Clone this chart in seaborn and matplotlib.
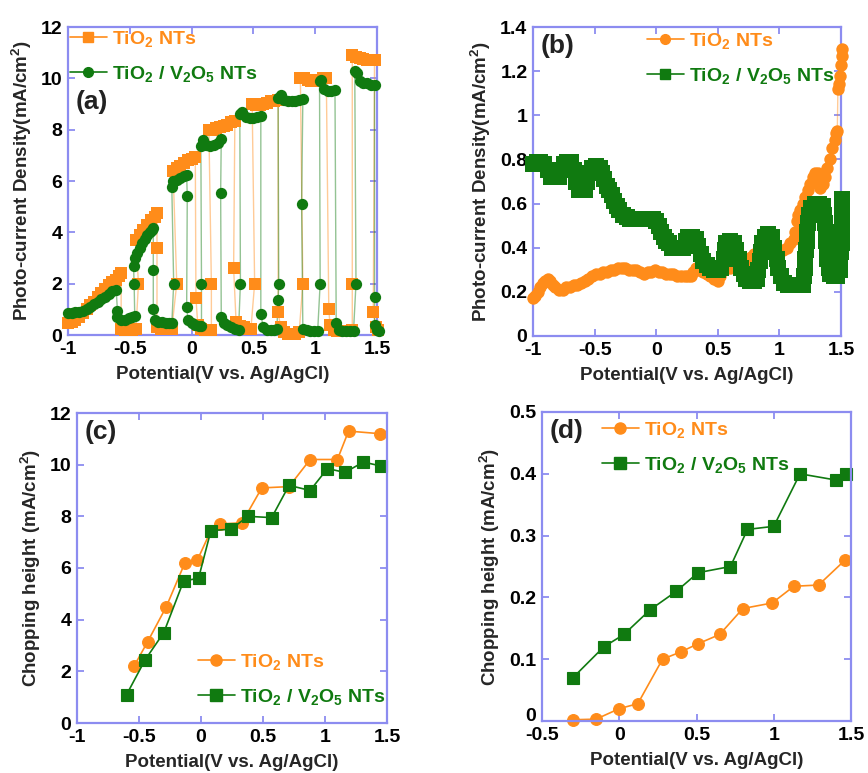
import matplotlib
matplotlib.use("Agg")
import matplotlib.pyplot as plt
import matplotlib.font_manager as fm
from matplotlib.lines import Line2D
from matplotlib.ticker import FuncFormatter, MultipleLocator, FixedLocator
from matplotlib.transforms import ScaledTranslation
import seaborn as sns
import pandas as pd

# ---------------- data ----------------
# (a) chopped photocurrent, TiO2 NTs (orange squares)
a_tio2_x = [-1.0, -0.97, -0.94, -0.91, -0.88, -0.85, -0.82, -0.79, -0.76, -0.73, -0.70, -0.67, -0.64, -0.61, -0.59, -0.57,
            -0.57, -0.54, -0.51, -0.48, -0.45,
            -0.43, -0.45, -0.42, -0.39, -0.36, -0.33, -0.30, -0.28,
            -0.28, -0.28, -0.25, -0.22, -0.19, -0.16,
            -0.12, -0.15, -0.12, -0.09, -0.06, -0.03, 0.0, 0.03,
            0.035, 0.05, 0.08, 0.11, 0.14, 0.16,
            0.16, 0.14, 0.17, 0.20, 0.23, 0.26, 0.29, 0.32, 0.35,
            0.34, 0.36, 0.39, 0.42, 0.45, 0.48,
            0.51, 0.49, 0.52, 0.55, 0.58, 0.61, 0.64, 0.67, 0.70,
            0.70, 0.72, 0.75, 0.78, 0.81, 0.84, 0.87,
            0.90, 0.88, 0.91, 0.94, 0.97, 1.00, 1.03, 1.06, 1.09,
            1.11, 1.12, 1.15, 1.18, 1.21, 1.24, 1.27, 1.30,
            1.30, 1.30, 1.33, 1.36, 1.39, 1.42, 1.45, 1.48,
            1.47, 1.49, 1.51]
a_tio2_y = [0.45, 0.5, 0.6, 0.7, 0.85, 1.0, 1.15, 1.3, 1.5, 1.65, 1.8, 1.95, 2.05, 2.15, 2.3, 2.4,
            0.25, 0.2, 0.2, 0.2, 0.22,
            2.0, 3.7, 3.9, 4.1, 4.3, 4.5, 4.6, 4.75,
            3.4, 0.3, 0.25, 0.25, 0.25, 0.25,
            2.0, 6.4, 6.5, 6.6, 6.7, 6.8, 6.85, 6.95,
            1.45, 0.4, 0.25, 0.2, 0.2, 0.2,
            2.0, 8.0, 8.0, 8.05, 8.1, 8.15, 8.2, 8.3, 8.35,
            2.6, 0.5, 0.35, 0.3, 0.25, 0.25,
            2.0, 9.0, 8.95, 8.95, 9.0, 9.05, 9.1, 9.1, 9.15,
            0.9, 0.3, 0.1, 0.05, 0.05, 0.05, 0.1,
            2.0, 10.0, 10.0, 9.95, 9.9, 9.9, 9.95, 10.0, 10.0,
            1.0, 0.4, 0.2, 0.15, 0.15, 0.15, 0.15, 0.2,
            2.0, 10.9, 10.85, 10.8, 10.75, 10.7, 10.7, 10.7,
            0.9, 0.3, 0.2]

# (a) chopped photocurrent, TiO2/V2O5 NTs (green circles)
a_tv_x = [-1.0, -0.97, -0.94, -0.91, -0.88, -0.85, -0.82, -0.79, -0.76, -0.73, -0.70, -0.67, -0.64, -0.61,
          -0.60, -0.60, -0.57, -0.54, -0.51, -0.48, -0.46,
          -0.465, -0.47, -0.46, -0.44, -0.42, -0.40, -0.38, -0.36, -0.34, -0.32, -0.31,
          -0.31, -0.31, -0.30, -0.27, -0.24, -0.21, -0.18, -0.16,
          -0.145, -0.16, -0.15, -0.12, -0.09, -0.06, -0.04,
          -0.035, -0.04, -0.03, 0.0, 0.03, 0.06, 0.08,
          0.08, 0.075, 0.09, 0.12, 0.15, 0.18, 0.21, 0.24,
          0.235, 0.24, 0.26, 0.29, 0.32, 0.35, 0.38,
          0.395, 0.39, 0.41, 0.44, 0.47, 0.50, 0.53, 0.56,
          0.56, 0.58, 0.61, 0.64, 0.67, 0.69,
          0.70, 0.705, 0.70, 0.72, 0.75, 0.78, 0.81, 0.84, 0.87, 0.90,
          0.89, 0.90, 0.93, 0.96, 0.99, 1.02,
          1.04, 1.035, 1.05, 1.07, 1.10, 1.13, 1.16,
          1.17, 1.19, 1.22, 1.25, 1.28, 1.31,
          1.33, 1.32, 1.34, 1.36, 1.39, 1.42, 1.45, 1.48,
          1.48, 1.48, 1.50, 1.52]
a_tv_y = [0.85, 0.85, 0.88, 0.9, 0.95, 1.0, 1.1, 1.2, 1.3, 1.4, 1.5, 1.6, 1.7, 1.75,
          0.95, 0.7, 0.6, 0.6, 0.65, 0.7, 0.75,
          2.0, 2.7, 3.0, 3.2, 3.4, 3.6, 3.75, 3.9, 4.0, 4.1, 4.15,
          2.55, 1.0, 0.6, 0.5, 0.5, 0.45, 0.45, 0.45,
          2.0, 5.75, 6.0, 6.05, 6.1, 6.2, 6.25,
          5.4, 1.1, 0.6, 0.45, 0.4, 0.35, 0.35,
          2.0, 7.35, 7.6, 7.4, 7.35, 7.4, 7.5, 7.65,
          5.55, 0.7, 0.45, 0.4, 0.3, 0.25, 0.2,
          2.0, 8.6, 8.7, 8.5, 8.45, 8.45, 8.5, 8.55,
          0.8, 0.3, 0.2, 0.2, 0.2, 0.25,
          1.35, 2.0, 9.25, 9.35, 9.15, 9.1, 9.1, 9.1, 9.15, 9.2,
          5.1, 0.25, 0.2, 0.15, 0.15, 0.15,
          2.0, 9.9, 9.95, 9.6, 9.5, 9.5, 9.55,
          0.45, 0.2, 0.15, 0.15, 0.15, 0.15,
          2.0, 10.3, 10.2, 9.9, 9.8, 9.8, 9.75, 9.75,
          1.5, 0.4, 0.2, 0.15]

# (b) TiO2 NTs (orange circles)
b_tio2_x = [-1.0, -0.98, -0.96, -0.94, -0.92, -0.90, -0.88, -0.86, -0.84, -0.82, -0.79, -0.76, -0.73, -0.70,
            -0.67, -0.64, -0.61, -0.58, -0.55, -0.52, -0.49, -0.46, -0.43, -0.40, -0.37, -0.34, -0.31, -0.28,
            -0.25, -0.22, -0.19, -0.16, -0.13, -0.10, -0.07, -0.04, -0.01, 0.02, 0.05, 0.08, 0.11, 0.14,
            0.17, 0.20, 0.23, 0.26, 0.28, 0.30, 0.32, 0.35, 0.38, 0.41, 0.44, 0.47, 0.50, 0.52, 0.54, 0.57,
            0.60, 0.63, 0.65, 0.67, 0.69, 0.71, 0.73, 0.75, 0.77, 0.79, 0.82, 0.85, 0.88, 0.91, 0.94, 0.97,
            1.00, 1.03, 1.06, 1.09, 1.12, 1.13, 1.14, 1.15, 1.17, 1.19, 1.21, 1.23, 1.25, 1.27, 1.29, 1.31,
            1.32, 1.33, 1.35, 1.37, 1.39, 1.41, 1.43, 1.45, 1.46, 1.47, 1.475, 1.48, 1.49, 1.50, 1.505, 1.51]
b_tio2_y = [0.17, 0.18, 0.20, 0.22, 0.24, 0.25, 0.26, 0.25, 0.23, 0.22, 0.21, 0.21, 0.22, 0.22,
            0.23, 0.23, 0.24, 0.25, 0.26, 0.27, 0.28, 0.28, 0.29, 0.29, 0.30, 0.30, 0.31, 0.31,
            0.31, 0.30, 0.30, 0.30, 0.29, 0.28, 0.29, 0.29, 0.30, 0.29, 0.29, 0.28, 0.28, 0.28,
            0.27, 0.27, 0.27, 0.27, 0.27, 0.29, 0.31, 0.30, 0.29, 0.28, 0.27, 0.26, 0.25, 0.27, 0.30, 0.31,
            0.31, 0.33, 0.33, 0.30, 0.29, 0.30, 0.32, 0.34, 0.36, 0.37, 0.37, 0.38, 0.38, 0.39, 0.39, 0.39,
            0.38, 0.39, 0.40, 0.42, 0.44, 0.47, 0.52, 0.55, 0.57, 0.60, 0.63, 0.66, 0.69, 0.72, 0.74, 0.74,
            0.70, 0.67, 0.69, 0.72, 0.76, 0.80, 0.85, 0.89, 0.92, 0.93, 1.12, 1.14, 1.18, 1.23, 1.27, 1.30]

# (b) TiO2/V2O5 NTs (green squares)
b_tv_x = [-1.0, -0.97, -0.94, -0.91, -0.88, -0.85, -0.82, -0.79, -0.77, -0.75, -0.72, -0.69, -0.67, -0.65,
          -0.63, -0.60, -0.58, -0.56, -0.54, -0.52, -0.49, -0.46, -0.44, -0.42, -0.40, -0.38, -0.36, -0.34,
          -0.32, -0.30, -0.27, -0.24, -0.21, -0.18, -0.15, -0.12, -0.09, -0.06, -0.03, 0.0, 0.02, 0.04,
          0.06, 0.08, 0.10, 0.13, 0.16, 0.19, 0.22, 0.24, 0.26, 0.29, 0.32, 0.34, 0.36, 0.38, 0.41, 0.44,
          0.47, 0.50, 0.53, 0.55, 0.56, 0.57, 0.60, 0.63, 0.65, 0.67, 0.69, 0.71, 0.73, 0.76, 0.79, 0.82,
          0.83, 0.84, 0.85, 0.86, 0.88, 0.91, 0.94, 0.96, 0.98, 0.99, 1.01, 1.04, 1.07, 1.10, 1.13, 1.16,
          1.19, 1.20, 1.205, 1.21, 1.215, 1.22, 1.225, 1.23, 1.24, 1.26, 1.29, 1.32, 1.35, 1.36, 1.37, 1.375,
          1.38, 1.385, 1.39, 1.40, 1.41, 1.44, 1.47, 1.49, 1.495, 1.50, 1.505, 1.51, 1.51, 1.51, 1.51, 1.51]
b_tv_y = [0.78, 0.79, 0.79, 0.78, 0.75, 0.72, 0.72, 0.72, 0.75, 0.78, 0.79, 0.79, 0.75, 0.70,
          0.66, 0.66, 0.66, 0.70, 0.74, 0.76, 0.77, 0.76, 0.74, 0.71, 0.68, 0.66, 0.64, 0.61,
          0.59, 0.57, 0.55, 0.54, 0.53, 0.53, 0.53, 0.53, 0.53, 0.53, 0.53, 0.52, 0.50, 0.47,
          0.45, 0.43, 0.42, 0.40, 0.40, 0.40, 0.40, 0.43, 0.45, 0.45, 0.44, 0.41, 0.37, 0.34, 0.32, 0.31,
          0.30, 0.30, 0.31, 0.35, 0.39, 0.42, 0.43, 0.42, 0.39, 0.35, 0.31, 0.28, 0.26, 0.25, 0.25, 0.26,
          0.30, 0.34, 0.38, 0.42, 0.45, 0.46, 0.45, 0.40, 0.35, 0.31, 0.27, 0.24, 0.23, 0.23, 0.23, 0.23,
          0.23, 0.27, 0.31, 0.35, 0.39, 0.43, 0.47, 0.51, 0.55, 0.58, 0.60, 0.60, 0.59, 0.55, 0.51, 0.47,
          0.43, 0.39, 0.35, 0.31, 0.28, 0.27, 0.27, 0.30, 0.34, 0.38, 0.42, 0.46, 0.50, 0.54, 0.58, 0.62]

# (c) chopping height
c_tio2_x = [-0.54, -0.43, -0.28, -0.13, -0.03, 0.08, 0.15, 0.33, 0.49, 0.71, 0.88, 1.10, 1.19, 1.44]
c_tio2_y = [2.2, 3.15, 4.5, 6.2, 6.3, 7.45, 7.7, 7.75, 9.1, 9.15, 10.2, 10.2, 11.3, 11.2]
c_tv_x = [-0.60, -0.45, -0.30, -0.14, -0.02, 0.08, 0.24, 0.38, 0.57, 0.71, 0.88, 1.02, 1.16, 1.31, 1.45]
c_tv_y = [1.1, 2.45, 3.5, 5.5, 5.6, 7.45, 7.5, 8.0, 7.95, 9.2, 9.0, 9.85, 9.7, 10.1, 9.95]

# (d) chopping height
d_tio2_x = [-0.30, -0.15, 0.0, 0.12, 0.28, 0.40, 0.51, 0.65, 0.80, 0.99, 1.13, 1.29, 1.46]
d_tio2_y = [0.002, 0.003, 0.02, 0.028, 0.10, 0.112, 0.125, 0.14, 0.182, 0.191, 0.218, 0.22, 0.26]
d_tv_x = [-0.30, -0.10, 0.03, 0.20, 0.37, 0.51, 0.72, 0.83, 1.00, 1.17, 1.40, 1.47]
d_tv_y = [0.07, 0.12, 0.14, 0.18, 0.21, 0.24, 0.25, 0.31, 0.315, 0.40, 0.39, 0.40]

lab_tio2 = r"TiO$_2$ NTs"
lab_tv = r"TiO$_2$ / V$_2$O$_5$ NTs"
xlabel = "Potential(V vs. Ag/AgCl)"
ylabel_ab = r"Photo-current Density(mA/cm$^2$)"
ylabel_cd = r"Chopping height (mA/cm$^2$)"
d_yticks = [0.0, 0.1, 0.2, 0.3, 0.4, 0.5]

# ---------------- style ----------------
sns.set_theme(style="white")
names = {f.name for f in fm.fontManager.ttflist}
fam = "Liberation Sans Narrow" if "Liberation Sans Narrow" in names else "Liberation Sans"
plt.rcParams["font.family"] = [fam, "DejaVu Sans"]
plt.rcParams["font.weight"] = "bold"
plt.rcParams["axes.labelweight"] = "bold"
plt.rcParams["mathtext.fontset"] = "custom"
plt.rcParams["mathtext.rm"] = fam + ":bold"
plt.rcParams["mathtext.bf"] = fam + ":bold"
plt.rcParams["mathtext.it"] = fam + ":bold"
plt.rcParams["mathtext.default"] = "rm"
plt.rcParams["axes.unicode_minus"] = False

ORANGE = "#ff8c1a"
GREEN = "#107a10"
SPINE = "#8c8cf0"

fig = plt.figure(figsize=(8.68, 7.73), dpi=100)
W, H = 868, 773


def mk_ax(l, t, r, b):
    return fig.add_axes([l / W, 1 - b / H, (r - l) / W, (b - t) / H])


ax_a = mk_ax(68, 27, 377, 335)
ax_b = mk_ax(533, 27, 841, 336)
ax_c = mk_ax(77, 413, 387, 723)
ax_d = mk_ax(542, 412, 851, 721)

fmt = FuncFormatter(lambda v, p: "%g" % round(v, 3))


def style(ax, xlim, ylim, xstep, ystep, ylab):
    ax.set_xlim(*xlim)
    ax.set_ylim(*ylim)
    ax.xaxis.set_major_locator(MultipleLocator(xstep))
    ax.yaxis.set_major_locator(MultipleLocator(ystep))
    ax.xaxis.set_major_formatter(fmt)
    ax.yaxis.set_major_formatter(fmt)
    for s in ax.spines.values():
        s.set_color(SPINE)
        s.set_linewidth(1.6)
    ax.tick_params(direction="in", length=5, width=1.3, color=SPINE, top=True, right=True,
                   labelsize=14, labelcolor="black", bottom=True, left=True)
    ax.tick_params(axis="x", pad=4)
    ax.tick_params(axis="y", pad=4)
    for t in ax.get_xticklabels() + ax.get_yticklabels():
        t.set_fontweight("bold")
    ax.set_xlabel(xlabel, fontsize=13.5, fontweight="bold", labelpad=6)
    ax.set_ylabel(ylab, fontsize=13.5, fontweight="bold", labelpad=5)
    ax.grid(False)


def dense(ax, x, y, color, marker, s):
    df = pd.DataFrame({"x": x, "y": y})
    sns.lineplot(data=df, x="x", y="y", sort=False, estimator=None, color=color, lw=1.0,
                 alpha=0.45, ax=ax, clip_on=False)
    sns.scatterplot(data=df, x="x", y="y", color=color, marker=marker, s=s, linewidth=0,
                    ax=ax, clip_on=False, zorder=3)


def legend(ax, handles, x, y):
    leg = ax.legend(handles=handles, loc="upper left", bbox_to_anchor=(x / W, 1 - y / H),
                    bbox_transform=fig.transFigure, frameon=False, fontsize=14,
                    handlelength=1.9, handletextpad=0.25, labelspacing=0.75, borderpad=0,
                    borderaxespad=0)
    for t, hd in zip(leg.get_texts(), handles):
        t.set_color(hd.get_color())
        t.set_fontweight("bold")


def h(color, marker, label, ms=7):
    return Line2D([], [], color=color, lw=1.2, marker=marker, markersize=ms, label=label)


# (a)
dense(ax_a, a_tio2_x, a_tio2_y, ORANGE, "s", 78)
dense(ax_a, a_tv_x, a_tv_y, GREEN, "o", 66)
style(ax_a, (-1, 1.5), (0, 12), 0.5, 2, ylabel_ab)
legend(ax_a, [h(ORANGE, "s", lab_tio2), h(GREEN, "o", lab_tv)], 70, 29)
ax_a.text(0.025, 0.755, "(a)", transform=ax_a.transAxes, fontsize=19, fontweight="bold",
          color="#222222", ha="left", va="center")

# (b)
dense(ax_b, b_tio2_x, b_tio2_y, ORANGE, "o", 80)
dense(ax_b, b_tv_x, b_tv_y, GREEN, "s", 125)
style(ax_b, (-1, 1.5), (0, 1.4), 0.5, 0.2, ylabel_ab)
legend(ax_b, [h(ORANGE, "o", lab_tio2), h(GREEN, "s", lab_tv)], 647, 31)
ax_b.text(0.025, 0.94, "(b)", transform=ax_b.transAxes, fontsize=19, fontweight="bold",
          color="#222222", ha="left", va="center")

# (c)
for x, y, col, mk in [(c_tio2_x, c_tio2_y, ORANGE, "o"), (c_tv_x, c_tv_y, GREEN, "s")]:
    sns.lineplot(x=x, y=y, sort=False, estimator=None, color=col, lw=1.2, marker=mk,
                 markersize=8.5, markeredgecolor=col, markeredgewidth=0.8, ax=ax_c, clip_on=False)
style(ax_c, (-1, 1.5), (0, 12), 0.5, 2, ylabel_cd)
legend(ax_c, [h(ORANGE, "o", lab_tio2, 8), h(GREEN, "s", lab_tv, 8)], 198, 652)
ax_c.text(0.025, 0.94, "(c)", transform=ax_c.transAxes, fontsize=19, fontweight="bold",
          color="#222222", ha="left", va="center")

# (d)
for x, y, col, mk in [(d_tio2_x, d_tio2_y, ORANGE, "o"), (d_tv_x, d_tv_y, GREEN, "s")]:
    sns.lineplot(x=x, y=y, sort=False, estimator=None, color=col, lw=1.2, marker=mk,
                 markersize=8.5, markeredgecolor=col, markeredgewidth=0.8, ax=ax_d, clip_on=False)
style(ax_d, (-0.5, 1.5), (0, 0.5), 0.5, 0.1, ylabel_cd)
ax_d.yaxis.set_major_locator(FixedLocator(d_yticks))
legend(ax_d, [h(ORANGE, "o", lab_tio2, 8), h(GREEN, "s", lab_tv, 8)], 602, 420)
ax_d.text(0.025, 0.94, "(d)", transform=ax_d.transAxes, fontsize=19, fontweight="bold",
          color="#222222", ha="left", va="center")

fig.canvas.draw()
lbl0 = ax_d.yaxis.get_major_ticks()[0].label1
lbl0.set_transform(lbl0.get_transform() + ScaledTranslation(0, 5 / 72, fig.dpi_scale_trans))

fig.savefig("out.png", dpi=100)
